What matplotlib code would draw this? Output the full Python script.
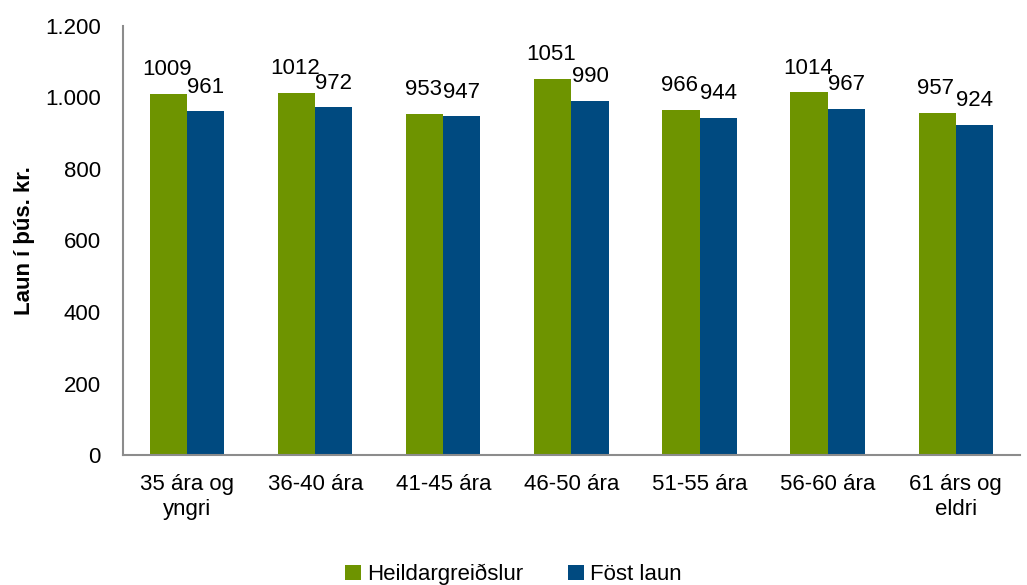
import matplotlib
matplotlib.use("Agg")
import matplotlib.pyplot as plt
import numpy as np

categories = ["35 ára og\nyngri", "36-40 ára", "41-45 ára", "46-50 ára", "51-55 ára", "56-60 ára", "61 árs og\neldri"]
heildar = [1009, 1012, 953, 1051, 966, 1014, 957]
fost = [961, 972, 947, 990, 944, 967, 924]
yticks = [0, 200, 400, 600, 800, 1000, 1200]
ytick_labels = ["0", "200", "400", "600", "800", "1.000", "1.200"]

plt.rcParams['font.family'] = ['Liberation Sans', 'DejaVu Sans']

fig = plt.figure(figsize=(10.27, 5.85), dpi=100)
ax = fig.add_axes([0.1198, 0.2222, 0.8732, 0.7334])

x = np.arange(len(categories))
w = 0.29
green = "#6e9400"
blue = "#004a80"
b1 = ax.bar(x - w/2, heildar, w, color=green, label="Heildargreiðslur")
b2 = ax.bar(x + w/2, fost, w, color=blue, label="Föst laun")

for xi, v in zip(x, heildar):
    ax.annotate(str(v), (xi - w/2, v), xytext=(-1, 10), textcoords="offset points",
                ha="center", va="bottom", fontsize=16)
for xi, v in zip(x, fost):
    ax.annotate(str(v), (xi + w/2, v), xytext=(0, 10), textcoords="offset points",
                ha="center", va="bottom", fontsize=16)

ax.set_xlim(-0.5, len(categories) - 0.5)
ax.set_ylim(0, 1200)
ax.set_yticks(yticks)
ax.set_yticklabels(ytick_labels, fontsize=16)
ax.set_xticks(x)
ax.set_xticklabels(categories, fontsize=16)
ax.tick_params(axis="y", length=0, pad=16)
ax.tick_params(axis="x", length=0, pad=14)
for s in ["top", "right"]:
    ax.spines[s].set_visible(False)
for s in ["left", "bottom"]:
    ax.spines[s].set_color("#8c8c8c")
    ax.spines[s].set_linewidth(1.5)

ax.set_ylabel("Laun í þús. kr.", fontsize=16, fontweight="bold", labelpad=7)

fig.legend(handles=[b1, b2], loc="lower center", bbox_to_anchor=(0.5, -0.035), ncol=2,
           frameon=False, fontsize=16, handlelength=0.7, handleheight=0.7,
           columnspacing=2.0, handletextpad=0.3)

fig.savefig("out.png", dpi=100)
